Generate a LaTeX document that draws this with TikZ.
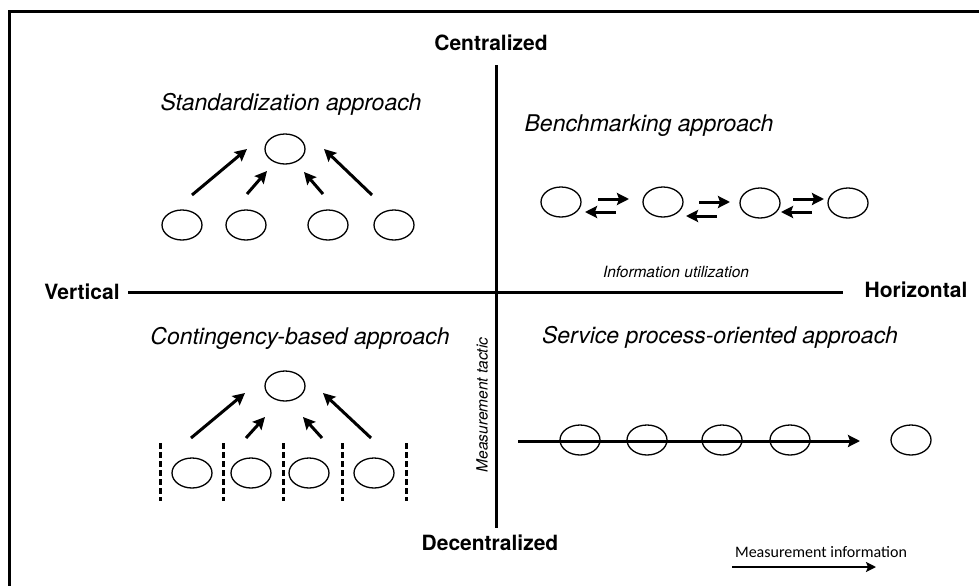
\documentclass[tikz,border=0pt]{standalone}
\usepackage{fontspec}
\setmainfont{TeX Gyre Heros}
\newfontfamily\calibfont{Carlito}
\usetikzlibrary{arrows.meta,shapes.geometric}
\begin{document}
\begin{tikzpicture}[x=1pt,y=-1pt,
  circ/.style={ellipse,draw,line width=1.3pt,minimum width=40pt,minimum height=30pt,inner sep=0pt},
  arr/.style={line width=3pt,-{Stealth[length=12pt,width=12pt,inset=2pt]}},
  thinarr/.style={line width=2.5pt,-{Stealth[length=10pt,width=10pt,inset=2pt]}},
  axis/.style={line width=3pt},
  axlab/.style={font=\fontsize{21}{25}\selectfont\bfseries},
  ttl/.style={font=\fontsize{23}{27}\selectfont\itshape},
  small/.style={font=\fontsize{15.5}{19}\selectfont\itshape},
  sepline/.style={line width=3pt,dash pattern=on 6pt off 3pt}]
\useasboundingbox (0,0) rectangle (979,586);
% frame
\draw[line width=3pt] (979,12) -- (9,12) -- (9,586);
% axes
\node[axlab] (cen) at (491,43) {Centralized};
\node[axlab] (dec) at (490,543) {Decentralized};
\node[axlab] (ver) at (82,292) {Vertical};
\node[axlab] (hor) at (916,290) {Horizontal};
\coordinate (vt) at (496,65);
\coordinate (vb) at (496,528);
\coordinate (hl) at (128,292);
\coordinate (hr) at (843,292);
\draw[axis] (vt) -- (vb);
\draw[axis] (hl) -- (hr);
\node[small] (info) at (676,272) {Information utilization};
\node[small,rotate=90] (tac) at (482,405) {Measurement tactic};
% titles
\node[ttl] (t1) at (291,104) {Standardization approach};
\node[ttl] (t2) at (649,126) {Benchmarking approach};
\node[ttl] (t3) at (300,338) {Contingency-based approach};
\node[ttl] (t4) at (720,337) {Service process-oriented approach};
% standardization
\node[circ] (s0) at (285,149) {};
\node[circ] (s1) at (182,225) {};
\node[circ] (s2) at (246,225) {};
\node[circ] (s3) at (328,225) {};
\node[circ] (s4) at (394,225) {};
\coordinate (sa1) at (192,195); \coordinate (sb1) at (247,149);
\coordinate (sa2) at (247,194); \coordinate (sb2) at (267,171);
\coordinate (sa3) at (323,194); \coordinate (sb3) at (304,172);
\coordinate (sa4) at (372,195); \coordinate (sb4) at (324,149);
\draw[arr] (sa1) -- (sb1);
\draw[arr] (sa2) -- (sb2);
\draw[arr] (sa3) -- (sb3);
\draw[arr] (sa4) -- (sb4);
% benchmarking
\node[circ] (b1) at (561,202) {};
\node[circ] (b2) at (663,202) {};
\node[circ] (b3) at (760,203) {};
\node[circ] (b4) at (848,203) {};
\coordinate (br1a) at (598,199); \coordinate (br1b) at (629,199);
\coordinate (bl1a) at (616,212); \coordinate (bl1b) at (585,212);
\coordinate (br2a) at (699,202); \coordinate (br2b) at (730,202);
\coordinate (bl2a) at (717,216); \coordinate (bl2b) at (686,216);
\coordinate (br3a) at (793,199); \coordinate (br3b) at (824,199);
\coordinate (bl3a) at (812,212); \coordinate (bl3b) at (781,212);
\draw[arr] (br1a) -- (br1b);
\draw[arr] (bl1a) -- (bl1b);
\draw[arr] (br2a) -- (br2b);
\draw[arr] (bl2a) -- (bl2b);
\draw[arr] (br3a) -- (br3b);
\draw[arr] (bl3a) -- (bl3b);
% contingency
\node[circ] (c0) at (285,386) {};
\node[circ] (c1) at (192,473) {};
\node[circ] (c2) at (251,473) {};
\node[circ] (c3) at (309,473) {};
\node[circ] (c4) at (374,473) {};
\coordinate (ca1) at (191,438); \coordinate (cb1) at (245,393);
\coordinate (ca2) at (246,438); \coordinate (cb2) at (265,417);
\coordinate (ca3) at (322,438); \coordinate (cb3) at (303,417);
\coordinate (ca4) at (371,438); \coordinate (cb4) at (323,393);
\draw[arr] (ca1) -- (cb1);
\draw[arr] (ca2) -- (cb2);
\draw[arr] (ca3) -- (cb3);
\draw[arr] (ca4) -- (cb4);
\foreach \i/\x in {1/160,2/223,3/283,4/342,5/406}{
  \coordinate (dt\i) at (\x,443);
  \coordinate (db\i) at (\x,501);
  \draw[sepline] (dt\i) -- (db\i);
}
% service process
\node[circ] (p1) at (580,440) {};
\node[circ] (p2) at (647,440) {};
\node[circ] (p3) at (722,440) {};
\node[circ] (p4) at (790,440) {};
\node[circ] (p5) at (911,440) {};
\coordinate (pa) at (518,441);
\coordinate (pb) at (860,441);
\draw[arr] (pa) -- (pb);
% legend
\node[font=\calibfont\fontsize{16}{19}\selectfont] (leg) at (821,552) {Measurement information};
\coordinate (la) at (732,567);
\coordinate (lb) at (876,567);
\draw[thinarr] (la) -- (lb);
\end{tikzpicture}
\end{document}
